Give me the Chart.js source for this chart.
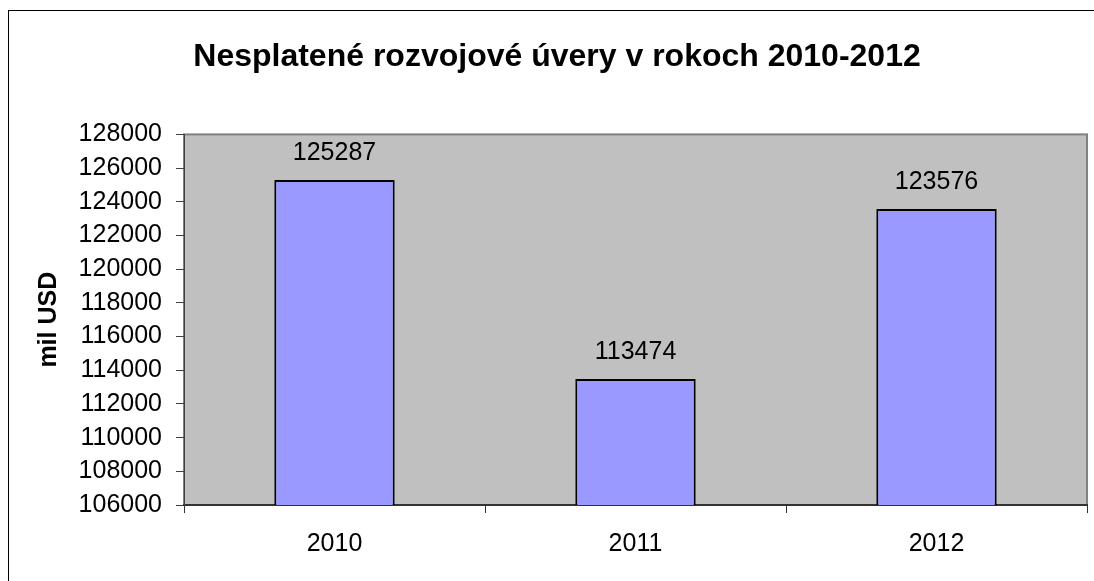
<!DOCTYPE html>
<html>
<head>
<meta charset="utf-8">
<script src="https://cdn.jsdelivr.net/npm/chart.js@4"></script>
<style>
  html, body { margin: 0; padding: 0; background: #fff; overflow: hidden; }
  #frame { position: absolute; left: 8px; top: 10px; width: 1096px; height: 600px; border: 1px solid #000; }
  #wrap { position: relative; width: 1096px; height: 600px; }
</style>
</head>
<body>
<div id="frame"><div id="wrap"><canvas id="chart"></canvas></div></div>
<script>
// chart data
const years = ['2010', '2011', '2012'];
const loans = [125287, 113474, 123576];
const yMin = 106000;
const yMax = 128000;
const yStep = 2000;

const FONT = '"Liberation Sans", Arial, sans-serif';

const plotBackground = {
    id: 'plotBackground',
    beforeDraw(chart) {
        const { ctx, chartArea: a } = chart;
        ctx.save();
        ctx.fillStyle = '#c0c0c0';
        ctx.fillRect(a.left, a.top, a.right - a.left, a.bottom - a.top);
        ctx.strokeStyle = '#808080';
        ctx.lineWidth = 2;
        ctx.strokeRect(a.left, a.top, a.right - a.left, a.bottom - a.top);
        ctx.restore();
    }
};

const valueLabels = {
    id: 'valueLabels',
    afterDatasetsDraw(chart) {
        const ctx = chart.ctx;
        const meta = chart.getDatasetMeta(0);
        ctx.save();
        ctx.font = '25px ' + FONT;
        ctx.fillStyle = '#000';
        ctx.textAlign = 'center';
        ctx.textBaseline = 'alphabetic';
        meta.data.forEach((bar, i) => {
            ctx.fillText(String(loans[i]), bar.x, bar.y - 20);
        });
        ctx.restore();
    }
};

new Chart(document.getElementById('chart'), {
    type: 'bar',
    data: {
        labels: years,
        datasets: [{
            data: loans,
            backgroundColor: '#9999ff',
            borderColor: '#000',
            borderWidth: 2,
            borderSkipped: false,
            categoryPercentage: 1,
            barPercentage: 0.4
        }]
    },
    options: {
        responsive: true,
        maintainAspectRatio: false,
        animation: false,
        events: [],
        layout: { padding: { left: 18, right: 18, top: 0, bottom: 46 } },
        plugins: {
            legend: { display: false },
            tooltip: { enabled: false },
            title: {
                display: true,
                text: 'Nesplatené rozvojové úvery v rokoch 2010-2012',
                color: '#000',
                font: { family: FONT, size: 32, weight: 'bold' },
                padding: { top: 27, bottom: 58 }
            }
        },
        scales: {
            x: {
                offset: true,
                grid: { offset: true, drawOnChartArea: false, tickLength: 8, color: '#333' },
                border: { color: '#333', width: 2 },
                ticks: { color: '#000', font: { family: FONT, size: 25 }, padding: 16 },
                afterFit(scale) { scale.height = 60; }
            },
            y: {
                min: yMin,
                max: yMax,
                grid: { drawOnChartArea: false, tickLength: 8, color: '#404040' },
                border: { color: '#404040', width: 1 },
                ticks: {
                    stepSize: yStep,
                    color: '#000',
                    font: { family: FONT, size: 25 },
                    padding: 14,
                    callback: v => String(v)
                },
                title: {
                    display: true,
                    text: 'mil USD',
                    color: '#000',
                    font: { family: FONT, size: 25, weight: 'bold' },
                    padding: { top: 7, bottom: 0 }
                },
                afterFit(scale) { scale.width = 157; }
            }
        }
    },
    plugins: [plotBackground, valueLabels]
});
</script>
</body>
</html>
